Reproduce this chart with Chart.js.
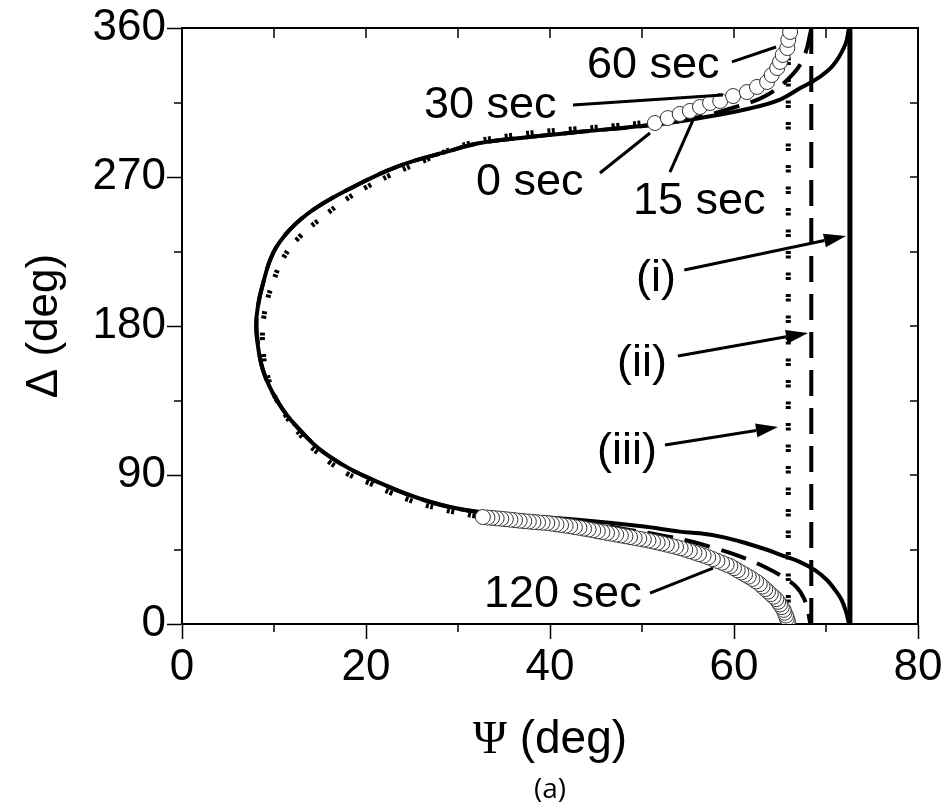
<!DOCTYPE html>
<html><head><meta charset="utf-8">
<script src="https://cdn.jsdelivr.net/npm/chart.js@4.4.0/dist/chart.umd.min.js"></script>
<style>html,body{margin:0;padding:0;background:#fff;}canvas{display:block;}</style>
</head><body>
<canvas id="c" width="945" height="810" style="width:945px;height:810px"></canvas>
<script>
// ---------- data (Ψ in deg, Δ in deg) ----------
const xTickValues = [0, 20, 40, 60, 80];
const yTickValues = [0, 90, 180, 270, 360];
const xMinorTicks = [10, 30, 50, 70];
const yMinorTicks = [45, 135, 225, 315];

// model (i) – solid
const modelIPsi   = [72.5,72.1,70.8,69.2,67.2,65.0,61.7,56.2,51.2,43.3,37.5,32.4,28.8,23.4,17.9,14.2,11.7,9.9,8.7,8.2,8.05,8.2,8.8,10.3,12.5,16.1,21.5,27.0,32.4,43.3,50.0,54.1,56.3,58.8,61.5,63.5,65.2,67.2,68.8,70.1,71.0,71.7,72.2,72.5];
const modelIDelta = [360,350,337.6,330,323.7,316.8,311.4,305.5,301.5,297.3,294,290.5,285.3,276.3,262,250,238,224,203.5,190,180,170,153.4,135.3,119,100.9,85.2,73.7,67.6,62.8,59,55.8,54.8,52.5,48.5,45,41.5,37.4,32.5,26.6,20.5,14.5,7,0];
const asymI = 72.6;

// model (ii) – dashed
const modelIIPsi   = [68.4,68.3,67.7,66.5,63.6,60.0,56.0,51.2,43.3,37.5,32.4,28.8,23.4,17.9,14.2,11.7,9.9,8.7,8.2,8.1,8.2,8.8,10.3,12.5,16.1,21.5,27.0,32.4,43.3,48.0,51.5,54.9,57.7,60.5,63.3,65.3,66.8,67.6,68.0,68.3];
const modelIIDelta = [360,357,344,332.8,319.5,312,306,301.5,297.3,294,290.5,285.3,276.3,262,250,238,224,203.5,190,180,172,153.4,135.3,119,100.9,85.2,73.7,67.4,61.8,57.4,54.2,50.4,46.2,41.2,34.6,28.5,22.3,15.5,8.5,0];
const asymII = 68.4;

// model (iii) – dotted
const modelIIIPsi   = [65.9,65.9,65.8,65.3,65.0,64.7,64.1,63.6,62.5,61.4,59.9,58.5,56.3,54.1,51.4,47.0,42.5,37.0,31.0,25.1,22.6,20.1,17.7,15.3,12.8,11.0,9.9,9.2,8.8,8.8,9.2,10.5,13.2,15.3,17.9,20.4,22.8,25.3,27.7,30.2,32.7,36.0,39.7,43.3,46.8,50.5,54.1,56.8,59.6,61.7,63.4,64.5,65.2,65.7,65.9];
const modelIIIDelta = [360,352.8,347.9,343.7,339.5,335.8,331.6,327.4,324.4,321.3,318.9,315.9,312.3,308.1,304,301,299,296,290,277,271,264,256,245.8,234,221,206.6,194,180.6,167,152,133,112,101,91,85,79,73.7,70,67,64.6,62.8,61.0,58.0,54.4,50.7,45.9,41.1,35.0,28.4,21.7,15.7,10.3,5.4,0];
const asymIII = 65.9;

// measured data – open circles
const measPsi = [51.4,52.8,54.1,55.2,56.3,57.4,58.5,59.9,61.4,62.5,63.6,64.1,64.7,65.0,65.3,65.8,65.9,66.1,
  65.9,65.85,65.75,65.65,65.5,65.4,65.2,65.0,64.8,64.6,64.3,64.0,63.7,63.4,63.1,62.8,62.4,62.0,61.6,61.2,60.8,60.4,60.0,59.6,59.2,58.7,58.2,57.7,57.2,56.7,56.2,55.7,55.2,54.7,54.2,53.7,53.2,52.7,52.2,51.7,51.2,50.7,50.2,49.7,49.2,48.7,48.2,47.7,47.2,46.7,46.2,45.7,45.2,44.7,44.2,43.7,43.2,42.7,42.2,41.7,41.2,40.7,40.2,39.7,39.2,38.7,38.2,37.7,37.2,36.7,36.2,35.7,35.2,34.7,34.2,33.7,33.2,32.7];
const measDelta = [302.6,305.6,308.1,309.9,312.3,314.7,315.9,318.9,321.3,324.4,327.4,331.6,335.8,339.5,343.7,347.9,352.8,357.6,
  0.3,1.7,3.4,5.1,6.8,8.5,10.2,11.8,13.4,15.0,16.5,18.0,19.6,21.1,22.6,24.1,25.7,27.2,28.6,29.8,31.1,32.4,33.7,35.0,35.8,37.0,38.1,39.2,40.3,41.3,42.2,43.1,44.0,44.9,45.8,46.5,47.2,47.9,48.6,49.2,49.8,50.4,51.0,51.5,52.0,52.5,53.0,53.5,54.0,54.5,55.0,55.5,56.0,56.6,57.1,57.6,58.1,58.5,59.0,59.4,59.8,60.2,60.6,61.0,61.2,61.4,61.6,61.9,62.1,62.4,62.7,63.0,63.3,63.6,63.8,64.1,64.3,64.6];

// annotations: label text, anchor Ψ, anchor Δ (left/baseline)
const labelTexts = ['60 sec','30 sec','0 sec','15 sec','(i)','(ii)','(iii)','120 sec'];
const labelPsi   = [44.02, 26.30, 31.96, 49.02, 49.35, 47.28, 45.11, 32.83];
const labelDelta = [329.8, 305.6, 259.1, 247.7, 201.1, 149.8, 96.6, 10.3];
// leader lines (no head) : from -> to
const leaderFrom = [[59.78,339.5],[42.5,313.5],[45.43,272.4],[53.04,273.0],[50.87,18.7]];
const leaderTo   = [[64.57,348.5],[58.8,319.5],[50.87,296.6],[55.54,304.4],[57.72,33.8]];
// arrows with heads : from -> to
const arrowFrom = [[54.6,213.8],[53.9,161.9],[52.5,108.1]];
const arrowTo   = [[72.17,234.4],[68.04,175.8],[64.78,119.0]];

// ---------- build ----------
const pts = (a, b) => a.map((v, i) => ({x: v, y: b[i]}));
const vline = v => [{x: v, y: 0}, {x: v, y: 360}];

const FONT = '"Liberation Sans", Arial, sans-serif';

const overlay = {
  id: 'overlay',
  afterDatasetsDraw(chart) {
    const {ctx, scales: {x, y}} = chart;
    ctx.save();
    ctx.strokeStyle = '#000'; ctx.fillStyle = '#000';
    ctx.lineWidth = 3; ctx.lineCap = 'butt';
    leaderFrom.forEach((f, i) => {
      const t = leaderTo[i];
      ctx.beginPath();
      ctx.moveTo(x.getPixelForValue(f[0]), y.getPixelForValue(f[1]));
      ctx.lineTo(x.getPixelForValue(t[0]), y.getPixelForValue(t[1]));
      ctx.stroke();
    });
    arrowFrom.forEach((f, i) => {
      const t = arrowTo[i];
      const x0 = x.getPixelForValue(f[0]), y0 = y.getPixelForValue(f[1]);
      const x1 = x.getPixelForValue(t[0]), y1 = y.getPixelForValue(t[1]);
      const ang = Math.atan2(y1 - y0, x1 - x0);
      const L = 22, W = 7;
      const bx = x1 - L * Math.cos(ang), by = y1 - L * Math.sin(ang);
      ctx.beginPath(); ctx.moveTo(x0, y0); ctx.lineTo(bx, by); ctx.stroke();
      ctx.beginPath();
      ctx.moveTo(x1, y1);
      ctx.lineTo(bx + W * Math.sin(ang), by - W * Math.cos(ang));
      ctx.lineTo(bx - W * Math.sin(ang), by + W * Math.cos(ang));
      ctx.closePath(); ctx.fill();
    });
    ctx.font = '45px ' + FONT;
    ctx.textBaseline = 'alphabetic'; ctx.textAlign = 'left';
    labelTexts.forEach((s, i) => {
      ctx.fillText(s, x.getPixelForValue(labelPsi[i]), y.getPixelForValue(labelDelta[i]));
    });
    ctx.restore();
  },
  afterDraw(chart) {
    const {ctx, chartArea: a, scales: {x, y}} = chart;
    ctx.save();
    ctx.strokeStyle = '#000'; ctx.lineWidth = 2;
    ctx.beginPath();
    ctx.moveTo(a.left, a.top); ctx.lineTo(a.right, a.top); ctx.lineTo(a.right, a.bottom);
    ctx.stroke();
    ctx.lineWidth = 1.5;
    xMinorTicks.forEach(v => {
      const px = Math.round(x.getPixelForValue(v));
      ctx.beginPath(); ctx.moveTo(px, a.bottom); ctx.lineTo(px, a.bottom + 8); ctx.stroke();
    });
    yMinorTicks.forEach(v => {
      const py = Math.round(y.getPixelForValue(v));
      ctx.beginPath(); ctx.moveTo(a.left, py); ctx.lineTo(a.left - 8, py); ctx.stroke();
    });
    xTickValues.concat(xMinorTicks).forEach(v => {
      if (v <= 0 || v >= 80) return;
      const px = Math.round(x.getPixelForValue(v));
      ctx.beginPath(); ctx.moveTo(px, a.top); ctx.lineTo(px, a.top + 10); ctx.stroke();
    });
    yTickValues.concat(yMinorTicks).forEach(v => {
      if (v <= 0 || v >= 360) return;
      const py = Math.round(y.getPixelForValue(v));
      ctx.beginPath(); ctx.moveTo(a.right, py); ctx.lineTo(a.right - 8, py); ctx.stroke();
    });
    ctx.fillStyle = '#000'; ctx.textBaseline = 'alphabetic'; ctx.textAlign = 'left';
    const f1 = '46px "Liberation Serif", "Times New Roman", serif';
    const f2 = '46px ' + FONT;
    ctx.font = f1; const w1 = ctx.measureText('Ψ').width;
    ctx.font = f2; const w2 = ctx.measureText(' (deg)').width;
    const cx = (a.left + a.right) / 2;
    const sx = cx - (w1 + w2) / 2;
    ctx.font = f1; ctx.fillText('Ψ', sx, 753);
    ctx.font = f2; ctx.fillText(' (deg)', sx + w1, 753);
    ctx.font = '28px "Open Sans", sans-serif'; ctx.textAlign = 'center';
    ctx.fillText('(a)', cx, 798);
    ctx.restore();
  }
};

const lineDs = (data, opts) => Object.assign({
  data, showLine: true, pointRadius: 0, borderColor: '#000', borderWidth: 4,
  tension: 0.4, fill: false
}, opts);

new Chart(document.getElementById('c'), {
  type: 'scatter',
  data: {
    datasets: [
      { data: pts(measPsi, measDelta), showLine: false, pointRadius: 7.5,
        pointBackgroundColor: '#fff', pointBorderColor: '#333', pointBorderWidth: 1 },
      lineDs(pts(modelIPsi, modelIDelta), {}),
      lineDs(vline(asymI), {borderWidth: 5, tension: 0}),
      lineDs(pts(modelIIPsi, modelIIDelta), {borderDash: [26, 12]}),
      lineDs(vline(asymII), {borderWidth: 4, tension: 0, borderDash: [26, 12]}),
      lineDs(pts(modelIIIPsi, modelIIIDelta), {borderWidth: 5, borderDash: [3, 1.5, 3, 14]}),
      lineDs(vline(asymIII), {borderWidth: 5, tension: 0, borderDash: [3, 1.5, 3, 14]})
    ]
  },
  options: {
    responsive: false, animation: false, devicePixelRatio: 1,
    layout: {padding: {left: 0, right: 27, top: 28, bottom: 0}},
    plugins: {legend: {display: false}, tooltip: {enabled: false}, title: {display: false}},
    scales: {
      x: {
        type: 'linear', position: 'bottom', min: 0, max: 80,
        afterBuildTicks: s => { s.ticks = xTickValues.map(v => ({value: v})); },
        ticks: {font: {size: 44, family: FONT}, color: '#000', padding: 2, maxRotation: 0},
        grid: {drawOnChartArea: false, tickLength: 15, tickWidth: 1.5, tickColor: '#000'},
        border: {color: '#000', width: 2},
        afterFit: s => { s.height = 186; }
      },
      y: {
        type: 'linear', position: 'left', min: 0, max: 360,
        afterBuildTicks: s => { s.ticks = yTickValues.map(v => ({value: v})); },
        ticks: {font: {size: 44, family: FONT}, color: '#000', padding: 1},
        grid: {drawOnChartArea: false, tickLength: 15, tickWidth: 1.5, tickColor: '#000'},
        border: {color: '#000', width: 2},
        title: {display: true, text: 'Δ (deg)', color: '#000', font: {size: 44, family: FONT}, padding: {top: 18, bottom: 0}},
        afterFit: s => { s.width = 182; }
      }
    }
  },
  plugins: [overlay]
});
</script>
</body></html>
